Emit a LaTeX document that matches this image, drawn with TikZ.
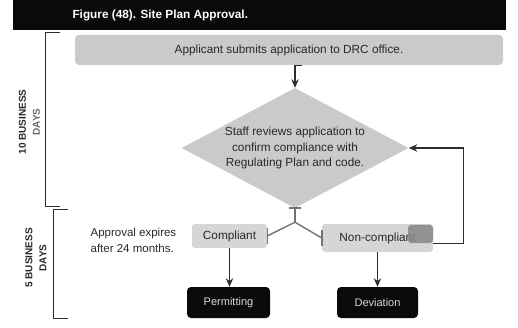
\documentclass[tikz,border=0pt]{standalone}
\usepackage{fontspec}
\setmainfont{Liberation Sans}
\usetikzlibrary{positioning,arrows.meta,shapes.geometric,calc}
\definecolor{barblack}{RGB}{10,10,10}
\definecolor{stepgray}{RGB}{202,202,202}
\definecolor{boxgray}{RGB}{214,214,214}
\definecolor{tabgray}{RGB}{135,135,135}
\definecolor{linedark}{RGB}{45,45,45}
\definecolor{forkgray}{RGB}{115,115,115}
\definecolor{inkgray}{RGB}{40,40,40}
\tikzset{
  titlebar/.style={rectangle, fill=barblack, inner sep=0pt},
  stepbar/.style ={rectangle, rounded corners=4pt, fill=stepgray, text=inkgray,
                   font=\fontsize{11.8}{13}\selectfont, minimum height=30pt},
  decision/.style={diamond, fill=stepgray, text=inkgray, align=center, inner sep=0pt,
                   font=\fontsize{11.8}{15.5}\selectfont, minimum width=227pt,
                   minimum height=120pt, shape aspect=1.9},
  result/.style  ={rectangle, rounded corners=3pt, fill=boxgray, text=inkgray,
                   font=\fontsize{11.8}{13}\selectfont},
  outcome/.style ={rectangle, rounded corners=4pt, fill=barblack, text=white!85!black,
                   font=\fontsize{11}{13}\selectfont, minimum height=31pt},
  note/.style    ={align=left, text=inkgray, font=\fontsize{11.5}{16}\selectfont},
  daylabel/.style={rotate=90, align=center, text=inkgray,
                   font=\bfseries\fontsize{10}{14}\selectfont},
  flow/.style    ={-{Stealth[length=3mm, width=2.6mm]}, line width=1.1pt, draw=linedark},
  branch/.style  ={line width=1.4pt, draw=forkgray},
  bracket/.style ={line width=1pt, draw=linedark},
}
\begin{document}
\begin{tikzpicture}[x=1pt, y=-1pt, node distance=10pt]
\useasboundingbox (0,0) rectangle (518,328);
% heading
\node[titlebar, anchor=north west, minimum width=493pt, minimum height=30pt] (title) at (13,0) {};
\node[right=56pt of title.west, text=white, font=\bfseries\fontsize{11.8}{13}\selectfont] (caption) {Figure (48). Site Plan Approval.};
% time brackets
\draw[bracket] (60,33) -- (45,33) -- (45,207) -- (60,207);
\draw[bracket] (68,210) -- (53,210) -- (53,318) -- (68,318);
\node[daylabel] (tenday) at (29.5,122) {10 BUSINESS\\\textcolor{inkgray!70}{DAYS}};
\node[daylabel] (fiveday) at (36,258) {5 BUSINESS\\DAYS};
% steps
\node[stepbar, minimum width=428pt] (submit) at (289,50) {Applicant submits application to DRC office.};
\node[decision] (review) at (295,148) {Staff reviews application to\\confirm compliance with\\Regulating Plan and code.};
\node[result, minimum width=75pt, minimum height=24pt] (comply) at (229.5,236) {Compliant};
\node[result, minimum width=111pt, minimum height=28pt] (noncomply) at (377.5,238) {Non-compliant};
\node[rectangle, rounded corners=3pt, fill=tabgray, fill opacity=0.85, minimum width=25pt,
      minimum height=18pt, anchor=north east] (tab) at ([yshift=-1pt]noncomply.north east) {};
\node[note, left=12pt of comply, yshift=-4pt] (expire) {Approval expires\\after 24 months.};
\node[outcome, minimum width=83pt] (permit) at (228.5,302.5) {Permitting};
\node[outcome, minimum width=81pt] (deviate) at (377.5,302.5) {Deviation};
% connectors
\draw[flow] ([xshift=7pt]submit.south -| review.north) -- (submit.south -| review.north) -- (review.north);
\coordinate (fork) at ($(review.south)+(0,14)$);
\draw[branch] ([xshift=-6pt]review.south) -- ([xshift=6pt]review.south);
\draw[branch] (review.south) -- (fork);
\draw[branch] (comply.east) -- (fork) -- (noncomply.west);
\draw[branch] ([yshift=-8pt]comply.east) -- ([yshift=8pt]comply.east);
\draw[branch] ([yshift=-8pt]noncomply.west) -- ([yshift=8pt]noncomply.west);
\draw[flow] (comply.south) -- (comply.south |- permit.north);
\draw[flow] (noncomply.south) -- (noncomply.south |- deviate.north);
\draw[flow] (tab.south east) -- ++(30,0) |- (review.east);
\end{tikzpicture}
\end{document}
